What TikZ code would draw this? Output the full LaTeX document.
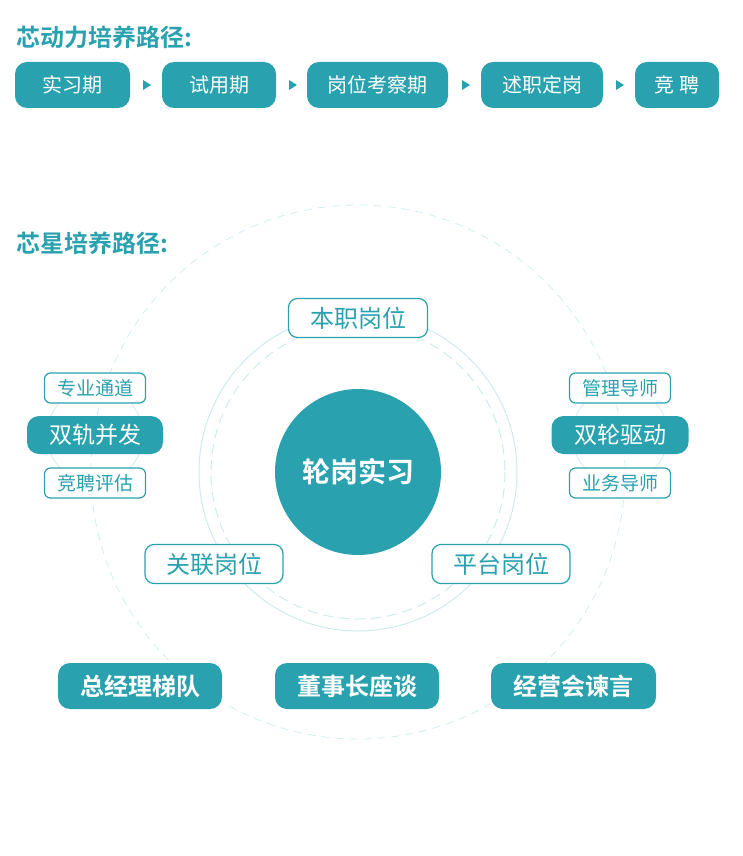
\documentclass[tikz,border=0pt]{standalone}
\usepackage{fontspec}
\setmainfont{Noto Sans CJK SC}
\newfontfamily\cjkb{Noto Sans CJK SC Bold}
\begin{document}
\definecolor{teal1}{HTML}{2AA1AF}
\definecolor{faint}{HTML}{CDEBEF}
\begin{tikzpicture}[x=1pt,y=-1pt,
  fillbox/.style={rounded corners=12pt,fill=teal1,text=white,font=\fontsize{20}{20}\selectfont,inner sep=0pt},
  linebox/.style={rounded corners=9pt,draw=teal1,line width=1.2pt,fill=white,text=teal1,inner sep=0pt},
  tri/.style={fill=teal1}]
\useasboundingbox (0,0) rectangle (743,856);
\node[anchor=west,text=teal1,font=\cjkb\fontsize{24}{24}\selectfont] (t1) at (13,37) {芯动力培养路径:};
\node[fillbox,minimum width=115pt,minimum height=46pt] (a1) at (72.5,85) {实习期};
\node[fillbox,minimum width=114pt,minimum height=46pt] (a2) at (219,85) {试用期};
\node[fillbox,minimum width=141pt,minimum height=46pt] (a3) at (377.5,85) {岗位考察期};
\node[fillbox,minimum width=122pt,minimum height=46pt] (a4) at (542,85) {述职定岗};
\node[fillbox,minimum width=84pt,minimum height=46pt] (a5) at (677,85) {竞 聘};
\foreach \x in {146,292,465,619}{\fill[tri] (\x-3,80) -- (\x+5,85) -- (\x-3,90) -- cycle;}
\node[anchor=west,text=teal1,font=\cjkb\fontsize{24}{24}\selectfont] (t2) at (13,243) {芯星培养路径:};
\coordinate (c) at (358,472);
\draw[faint,dashed,dash pattern=on 8pt off 6pt,line width=0.7pt] (c) circle (267);
\draw[faint,line width=1pt] (c) circle (159);
\draw[faint,dashed,dash pattern=on 10pt off 6pt,line width=1pt] (c) circle (147);
\draw[faint,line width=0.7pt] (95,435) circle (48);
\draw[faint,line width=0.7pt] (620,435) circle (48);
\node[circle,fill=teal1,minimum size=166pt,inner sep=0pt,text=white,font=\cjkb\fontsize{28}{28}\selectfont] (center) at (c) {轮岗实习};
\node[linebox,minimum width=139pt,minimum height=39pt,font=\fontsize{24}{24}\selectfont] (p1) at (358,318) {本职岗位};
\node[linebox,minimum width=138pt,minimum height=39pt,font=\fontsize{24}{24}\selectfont] (p2) at (214,564) {关联岗位};
\node[linebox,minimum width=138pt,minimum height=39pt,font=\fontsize{24}{24}\selectfont] (p3) at (501,564) {平台岗位};
\node[linebox,rounded corners=6pt,minimum width=101pt,minimum height=30pt,font=\fontsize{19}{19}\selectfont] (l1) at (95,388) {专业通道};
\node[fillbox,minimum width=136pt,minimum height=38pt,font=\fontsize{23}{23}\selectfont] (l2) at (95,435) {双轨并发};
\node[linebox,rounded corners=6pt,minimum width=101pt,minimum height=30pt,font=\fontsize{19}{19}\selectfont] (l3) at (95,483) {竞聘评估};
\node[linebox,rounded corners=6pt,minimum width=101pt,minimum height=30pt,font=\fontsize{19}{19}\selectfont] (r1) at (620,388) {管理导师};
\node[fillbox,minimum width=137pt,minimum height=38pt,font=\fontsize{23}{23}\selectfont] (r2) at (620,435) {双轮驱动};
\node[linebox,rounded corners=6pt,minimum width=101pt,minimum height=30pt,font=\fontsize{19}{19}\selectfont] (r3) at (620,483) {业务导师};
\node[fillbox,minimum width=164pt,minimum height=46pt,font=\cjkb\fontsize{24}{24}\selectfont] (b1) at (140,686) {总经理梯队};
\node[fillbox,minimum width=164pt,minimum height=46pt,font=\cjkb\fontsize{24}{24}\selectfont] (b2) at (357,686) {董事长座谈};
\node[fillbox,minimum width=165pt,minimum height=46pt,font=\cjkb\fontsize{24}{24}\selectfont] (b3) at (573.5,686) {经营会谏言};
\end{tikzpicture}
\end{document}
